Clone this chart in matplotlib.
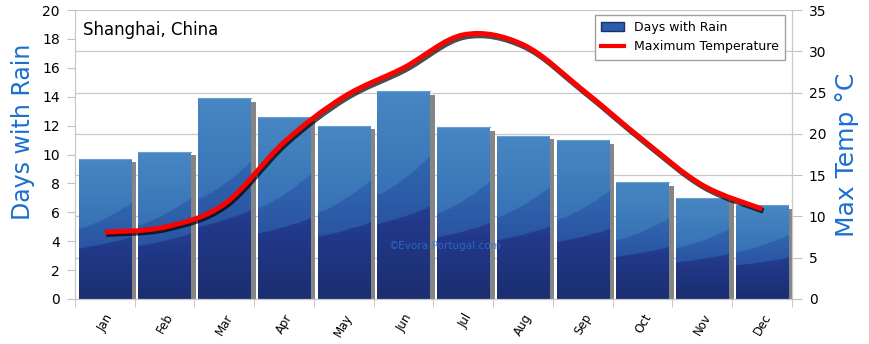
import numpy as np
import matplotlib
matplotlib.use("Agg")
import matplotlib.pyplot as plt
import matplotlib.patheffects as pe
from matplotlib.colors import LinearSegmentedColormap
from matplotlib.patches import Rectangle, PathPatch, Patch
from matplotlib.lines import Line2D
from matplotlib.path import Path

months = ["Jan", "Feb", "Mar", "Apr", "May", "Jun",
          "Jul", "Aug", "Sep", "Oct", "Nov", "Dec"]
rain_days = [9.7, 10.2, 13.9, 12.6, 12.0, 14.4, 11.9, 11.3, 11.0, 8.1, 7.0, 6.5]
max_temp = [8.1, 8.7, 11.5, 19.0, 24.5, 28.0, 32.0, 30.8, 25.3, 19.3, 13.8, 10.9]

title = "Shanghai, China"
left_label = "Days with Rain"
right_label = "Max Temp \u00b0C"

plt.rcParams['font.family'] = ['DejaVu Sans']

fig = plt.figure(figsize=(8.7, 3.44), dpi=100)
ax = fig.add_axes([75 / 870, 1 - 299 / 344, 717 / 870, 289 / 344])
ax2 = ax.twinx()

ax.set_xlim(-0.5, 11.5)
ax.set_ylim(0, 20)
ax2.set_ylim(0, 35)

# gridlines follow the right axis
for t in range(5, 40, 5):
    ax.axhline(t * 20 / 35, color="#c8c8c8", lw=0.9, zorder=0)

cmap = LinearSegmentedColormap.from_list(
    "bars", ["#1b2e70", "#22398a", "#2a54a2", "#3169b2", "#3d7aba", "#4a89c4"])

bw = 0.88
for i, h in enumerate(rain_days):
    x0 = i - bw / 2
    # shadow
    ax.add_patch(Rectangle((x0 + bw, 0), 0.085, h - 0.25, color="#858585",
                           zorder=1, lw=0))
    bar = Rectangle((x0, 0), bw, h, facecolor="none", edgecolor="none", zorder=2)
    ax.add_patch(bar)
    # per-bar gradient with curved bands
    ny, nx = 200, 40
    f = np.linspace(0, 1, ny)[:, None]
    xx = np.linspace(0, 1, nx)[None, :]
    b1 = 0.36 + 0.08 * xx ** 1.3
    b2 = 0.50 + 0.18 * xx ** 1.3
    img = 0.55 * f + 0.2 * (f > b1) + 0.22 * (f > b2)
    im = ax.imshow(img, origin="lower", extent=(x0, x0 + bw, 0, h),
                   cmap=cmap, vmin=0, vmax=1, aspect="auto",
                   interpolation="bilinear", zorder=2)
    im.set_clip_path(bar)
    ax.plot([x0, x0 + bw], [h, h], color="#6a9fd2", lw=0.8, zorder=3)

# smooth temperature curve
pts = np.column_stack([np.arange(12), max_temp]).astype(float)
ext = np.vstack([pts[0], pts, pts[-1]])
verts = [tuple(pts[0])]
codes = [Path.MOVETO]
for i in range(len(pts) - 1):
    p0, p1, p2, p3 = ext[i], ext[i + 1], ext[i + 2], ext[i + 3]
    c1 = p1 + (p2 - p0) / 6
    c2 = p2 - (p3 - p1) / 6
    verts += [tuple(c1), tuple(c2), tuple(p2)]
    codes += [Path.CURVE4] * 3
curve = PathPatch(Path(verts, codes), facecolor="none", edgecolor="#ff0000",
                  lw=3.5, capstyle="butt", zorder=5,
                  path_effects=[pe.SimpleLineShadow(offset=(1, -1.5), shadow_color="black", alpha=0.7, linewidth=4),
                                pe.Normal()])
ax2.add_patch(curve)

# axes styling
for a in (ax, ax2):
    for s in a.spines.values():
        s.set_color("#c8c8c8")
    a.spines["top"].set_visible(False)

ax.set_yticks(range(0, 21, 2))
ax2.set_yticks(range(0, 36, 5))
ax.tick_params(axis="y", length=6, color="#c0c0c0", labelsize=10, pad=5)
ax2.tick_params(axis="y", length=7, color="#c0c0c0", labelsize=10, pad=5)

ax.set_xticks(range(12))
ax.set_xticklabels(months, rotation=60, ha="right", rotation_mode="anchor", fontsize=8.5)
ax.set_xticks(np.arange(-0.5, 12, 1), minor=True)
ax.tick_params(axis="x", which="major", length=0, pad=9)
ax.tick_params(axis="x", which="minor", length=6, color="#c0c0c0")

ax.text(0.011, 0.93, title, transform=ax.transAxes, fontsize=12,
        va="center", ha="left", zorder=6)
ax.text(0.516, 0.183, "\u00a9Evora-Portugal.com", transform=ax.transAxes,
        fontsize=7.5, color="#2f72d0", alpha=0.8, ha="center", va="center", zorder=4)

fig.text(0.027, 0.616, left_label, rotation=90, fontsize=17, color="#1a6fd0",
         ha="center", va="center")
fig.text(0.974, 0.55, right_label, rotation=90, fontsize=18, color="#1a6fd0",
         ha="center", va="center")

handles = [Patch(facecolor="#2d5ca8", edgecolor="#1b2f72"),
           Line2D([], [], color="#ff0000", lw=3)]
leg = ax2.legend(handles, ["Days with Rain", "Maximum Temperature"],
                 loc="upper right", bbox_to_anchor=(0.99, 0.983), borderaxespad=0,
                 fontsize=9, fancybox=False, edgecolor="#a0a0a0", framealpha=1,
                 handlelength=1.8, borderpad=0.5, labelspacing=0.5)
leg.set_zorder(10)

fig.savefig("out.png", dpi=100)
